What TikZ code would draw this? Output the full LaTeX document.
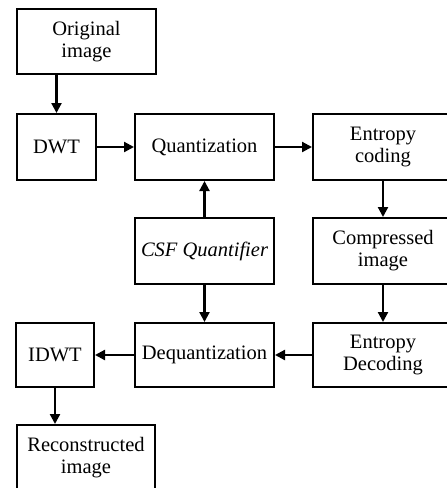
\documentclass[tikz,border=0pt]{standalone}
\usepackage{fontspec}
\setmainfont{Liberation Serif}
\usetikzlibrary{arrows.meta}
\begin{document}
\begin{tikzpicture}[x=1pt,y=-1pt,
  blk/.style={draw=black,line width=2pt,inner sep=0pt,align=center,
    font=\fontsize{20.5}{22}\selectfont},
  arr/.style={-{Triangle[length=10pt,width=10pt]},line width=2.2pt}]
\useasboundingbox (0,0) rectangle (447,488);
\clip (0,0) rectangle (447,488);
\node[blk,minimum width=139pt,minimum height=65pt] (orig) at (86.5,41.5) {Original\\image};
\node[blk,minimum width=79pt,minimum height=66pt] (dwt) at (56.5,147) {DWT};
\node[blk,minimum width=139pt,minimum height=66pt] (quant) at (204.5,147) {Quantization};
\node[blk,minimum width=140pt,minimum height=66pt] (ecod) at (383,147) {Entropy\\coding};
\node[blk,minimum width=139pt,minimum height=66pt] (csf) at (204.5,251) {\itshape CSF Quantifier};
\node[blk,minimum width=140pt,minimum height=66pt] (comp) at (383,251) {Compressed\\image};
\node[blk,minimum width=139pt,minimum height=64pt] (deq) at (204.5,355) {Dequantization};
\node[blk,minimum width=78pt,minimum height=64pt] (idwt) at (55,355) {IDWT};
\node[blk,minimum width=140pt,minimum height=64pt] (edec) at (383,355) {Entropy\\Decoding};
\node[blk,minimum width=138pt,minimum height=66pt] (rec) at (86,458) {Reconstructed\\image};
\draw[arr] (orig.south -| dwt) -- (dwt.north);
\draw[arr] (dwt) -- (quant);
\draw[arr] (quant) -- (ecod);
\draw[arr] (ecod) -- (comp);
\draw[arr] (csf) -- (quant);
\draw[arr] (csf) -- (deq);
\draw[arr] (comp) -- (edec);
\draw[arr] (edec) -- (deq);
\draw[arr] (deq) -- (idwt);
\draw[arr] (idwt.south) -- (idwt.south |- rec.north);
\end{tikzpicture}
\end{document}
